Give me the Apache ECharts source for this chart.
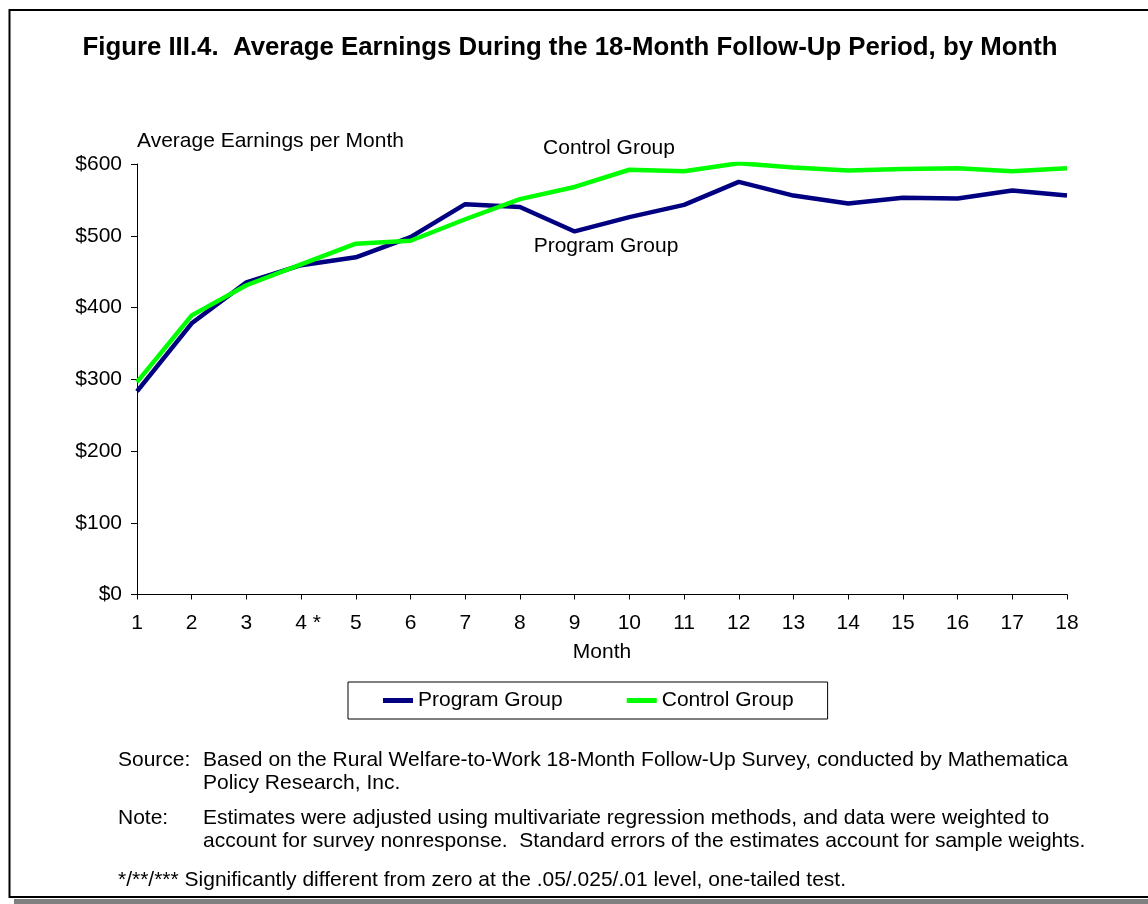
<!DOCTYPE html>
<html>
<head>
<meta charset="utf-8">
<script src="https://cdn.jsdelivr.net/npm/echarts@6/dist/echarts.min.js"></script>
<style>
  html, body { margin: 0; padding: 0; background: #fff; }
  #chart { width: 1148px; height: 904px; }
</style>
</head>
<body>
<div id="chart"></div>
<script>
// months along the x axis (month 4 marked significant)
const months = ['1', '2', '3', '4*', '5', '6', '7', '8', '9', '10', '11', '12', '13', '14', '15', '16', '17', '18']
// average earnings per month
const programGroup = [283, 378, 435, 459, 470, 498, 544, 540, 506, 526, 543, 575, 556, 545, 553, 552, 563, 556]
const controlGroup = [296, 389, 431, 460, 489, 493, 523, 551, 568, 592, 590, 601, 595, 591, 593, 594, 590, 594]
const seriesNames = ['Program Group', 'Control Group']

const font = 'Arial, "Liberation Sans", sans-serif'
const noteLines = [
  ['Source:', 'Based on the Rural Welfare-to-Work 18-Month Follow-Up Survey, conducted by Mathematica', 760],
  ['', 'Policy Research, Inc.', 783],
  ['Note:', 'Estimates were adjusted using multivariate regression methods, and data were weighted to', 818],
  ['', 'account for survey nonresponse.  Standard errors of the estimates account for sample weights.', 841]
]

const chart = echarts.init(document.getElementById('chart'))

const graphics = [
  // page frame + drop shadow
  { type: 'rect', shape: { x: 14, y: 899, width: 1140, height: 8 }, style: { fill: '#808080' }, silent: true },
  { type: 'rect', shape: { x: 9.5, y: 10, width: 1150, height: 887 }, style: { fill: 'none', stroke: '#000', lineWidth: 2 }, silent: true },
  { type: 'text', x: 570, y: 48, style: { text: 'Figure III.4.  Average Earnings During the 18-Month Follow-Up Period, by Month', font: 'bold 25.8px ' + font, fill: '#000', align: 'center', verticalAlign: 'middle' } },
  { type: 'text', x: 609, y: 148, style: { text: 'Control Group', font: '21px ' + font, fill: '#000', align: 'center', verticalAlign: 'middle' } },
  { type: 'text', x: 606, y: 246, style: { text: 'Program Group', font: '21px ' + font, fill: '#000', align: 'center', verticalAlign: 'middle' } },
  { type: 'text', x: 118, y: 880, style: { text: '*/**/*** Significantly different from zero at the .05/.025/.01 level, one-tailed test.', font: '21px ' + font, fill: '#000', verticalAlign: 'middle' } }
]
noteLines.forEach(([head, body, y]) => {
  if (head) graphics.push({ type: 'text', x: 118, y: y, style: { text: head, font: '21px ' + font, fill: '#000', verticalAlign: 'middle' } })
  graphics.push({ type: 'text', x: 203, y: y, style: { text: body, font: '21px ' + font, fill: '#000', verticalAlign: 'middle' } })
})

const option = {
  backgroundColor: '#fff',
  animation: false,
  textStyle: { fontFamily: font, color: '#000' },
  grid: { left: 137, right: 81, top: 164, bottom: 309.5 },
  legend: {
    left: 348,
    top: 682,
    data: seriesNames,
    icon: 'rect',
    itemWidth: 30,
    itemHeight: 5,
    itemGap: 64,
    padding: [8, 34, 8, 35],
    borderColor: '#000',
    borderWidth: 1,
    textStyle: { fontSize: 21, color: '#000', fontFamily: font }
  },
  xAxis: {
    type: 'category',
    data: months,
    boundaryGap: false,
    name: 'Month',
    nameLocation: 'middle',
    nameGap: 47,
    nameTextStyle: { fontSize: 21, color: '#000', fontFamily: font },
    axisLine: { lineStyle: { color: '#000', width: 1 } },
    axisTick: { interval: 0, alignWithLabel: true, length: 5, lineStyle: { color: '#000' } },
    axisLabel: {
      interval: 0,
      margin: 18,
      fontSize: 21,
      color: '#000',
      fontFamily: font,
      // keep the digit on the tick, star hanging to the right
      formatter: v => v.endsWith('*') ? '{p|}' + v.slice(0, -1) + ' *' : v,
      rich: { p: { width: 14, fontSize: 21 } }
    },
    splitLine: { show: false }
  },
  yAxis: {
    type: 'value',
    min: 0,
    max: 600,
    interval: 100,
    name: 'Average Earnings per Month',
    nameLocation: 'end',
    nameGap: 12,
    nameTextStyle: { fontSize: 21, color: '#000', align: 'left', fontFamily: font },
    axisLine: { show: true, lineStyle: { color: '#000', width: 1 } },
    axisTick: { show: true, length: 6, lineStyle: { color: '#000' } },
    axisLabel: { margin: 15, fontSize: 21, color: '#000', fontFamily: font, formatter: v => '$' + v },
    splitLine: { show: false }
  },
  series: [
    {
      name: seriesNames[0],
      type: 'line',
      data: programGroup,
      showSymbol: false,
      lineStyle: { color: '#000080', width: 4.5 },
      itemStyle: { color: '#000080' }
    },
    {
      name: seriesNames[1],
      type: 'line',
      data: controlGroup,
      showSymbol: false,
      lineStyle: { color: '#00ff00', width: 4.5 },
      itemStyle: { color: '#00ff00' }
    }
  ],
  graphic: graphics
}

chart.setOption(option)
</script>
</body>
</html>
